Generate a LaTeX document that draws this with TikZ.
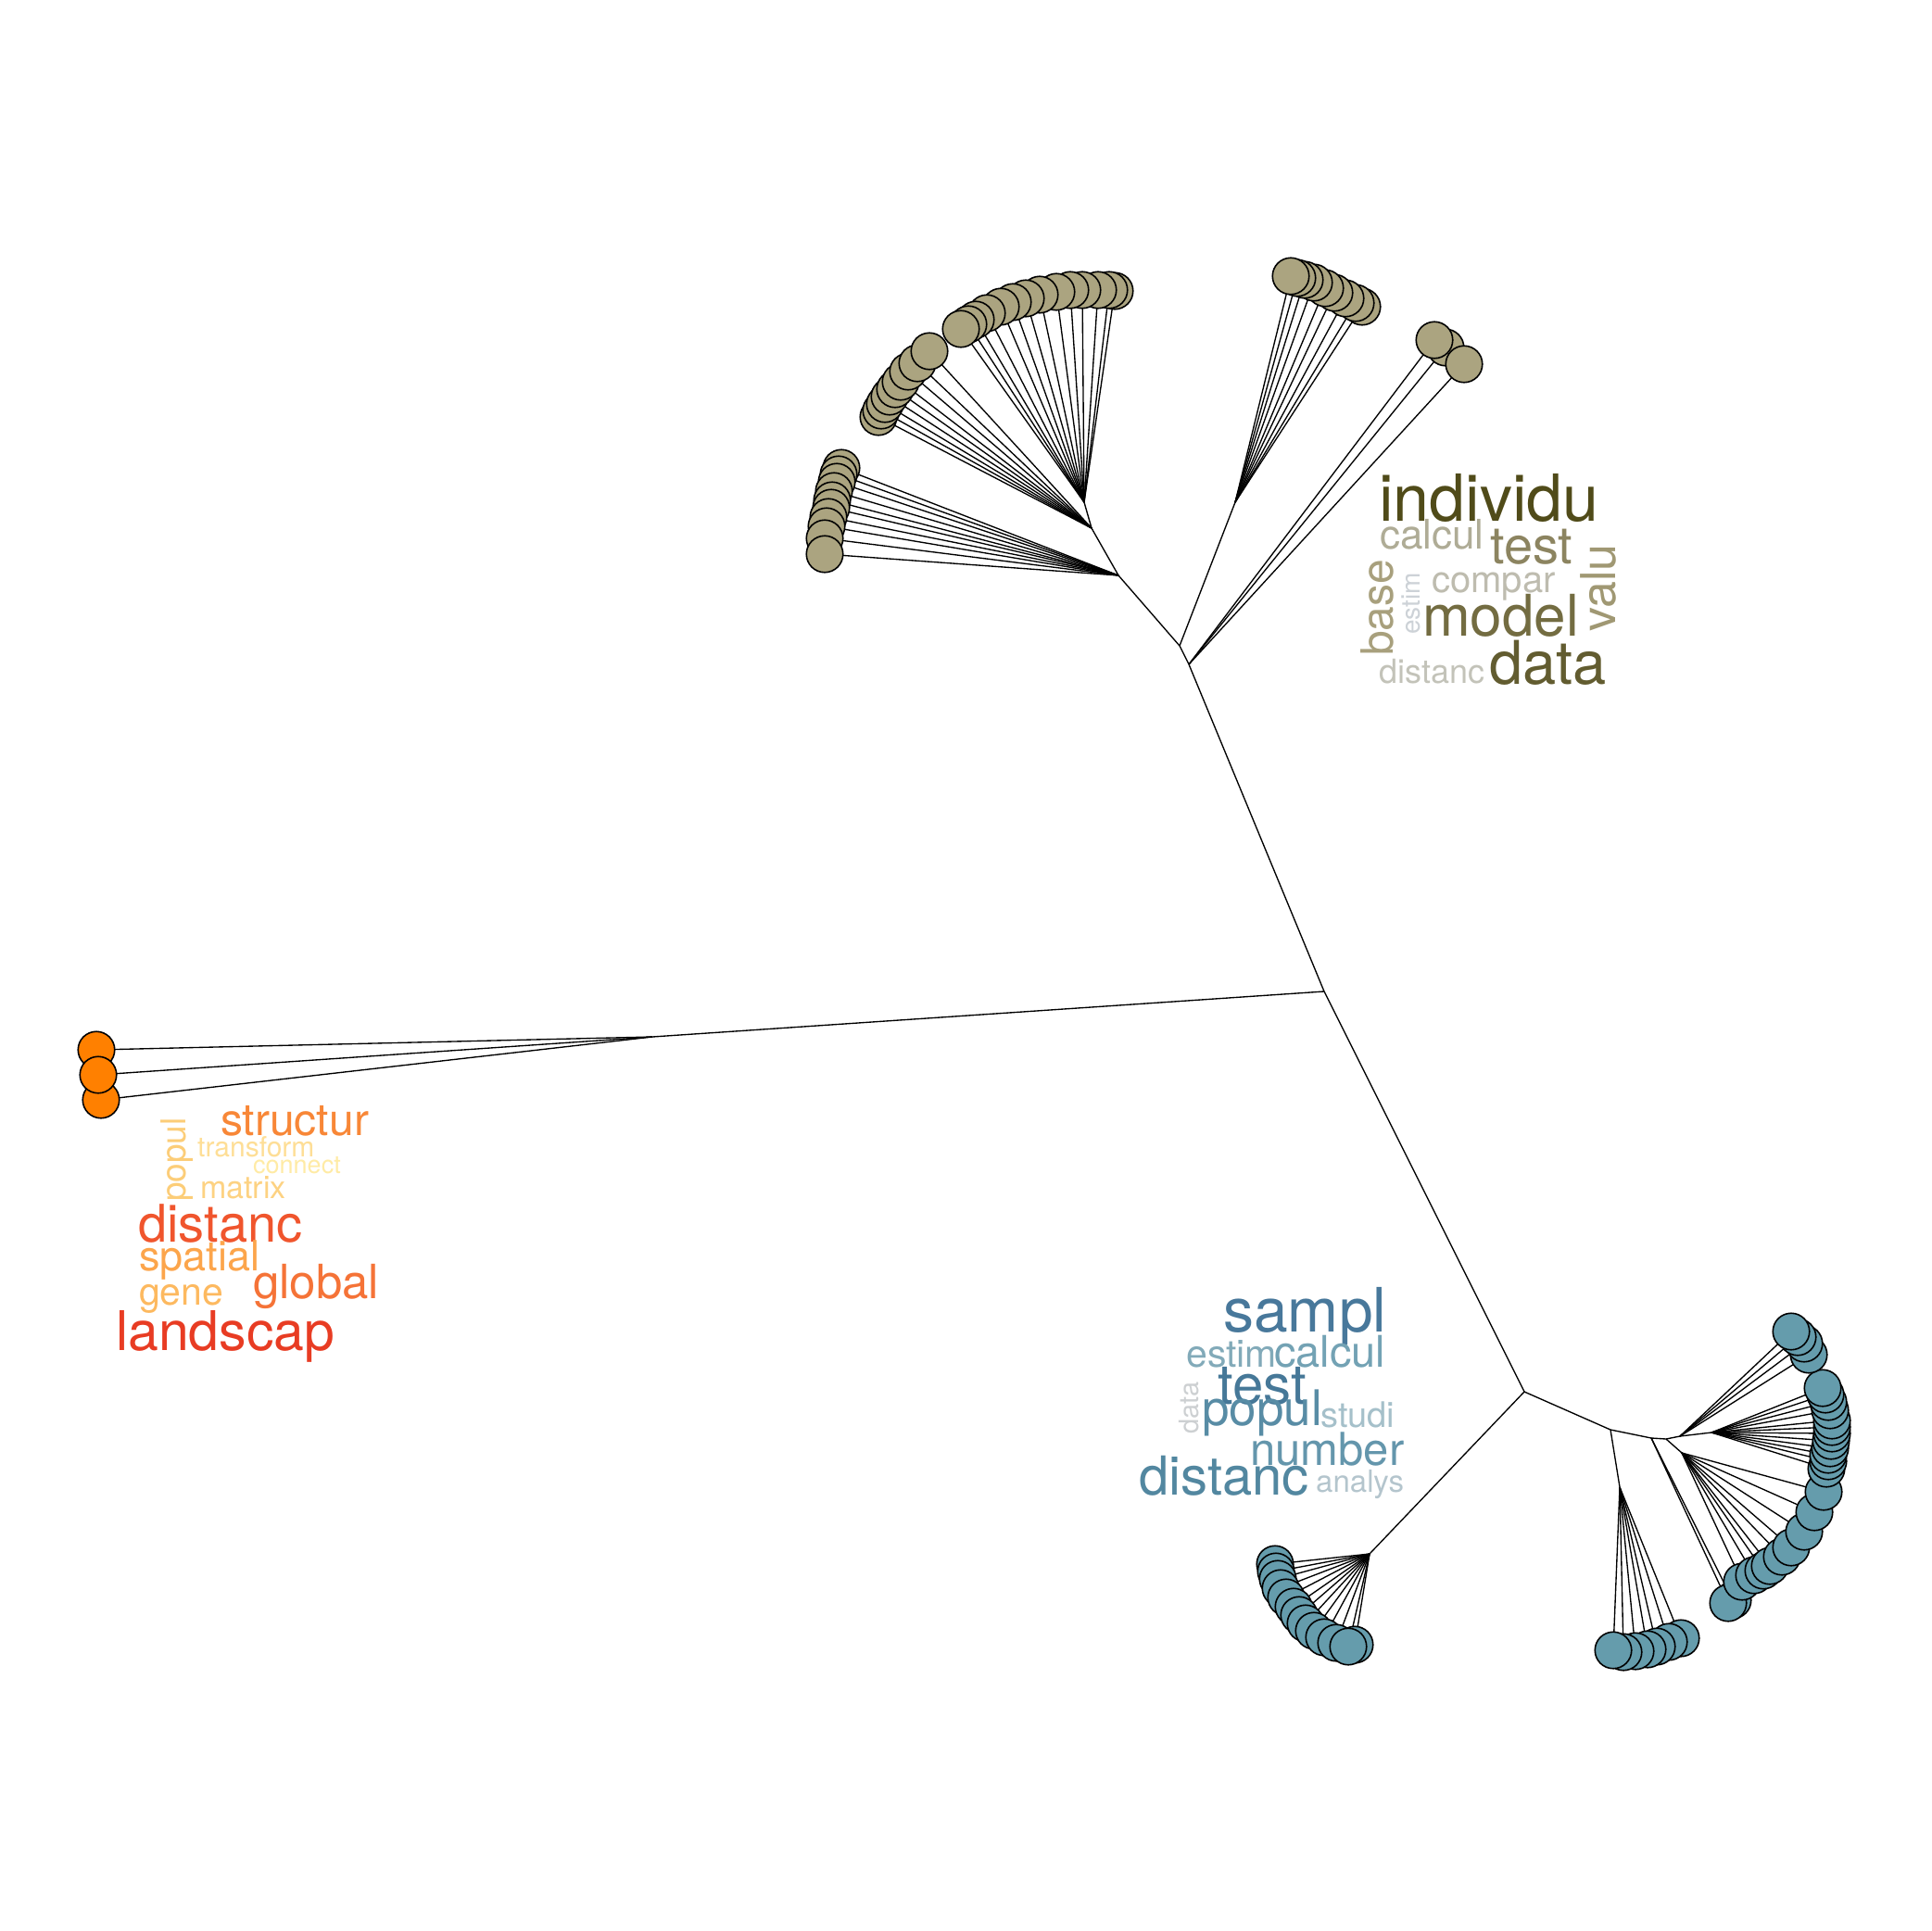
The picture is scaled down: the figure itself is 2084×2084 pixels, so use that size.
\documentclass[tikz,border=0pt]{standalone}
\usepackage{fontspec}
\setmainfont{TeX Gyre Heros}
\pgfdeclarelayer{back}
\pgfdeclarelayer{bg}
\pgfsetlayers{back,bg,main}
\definecolor{tanc}{RGB}{171,164,128}
\definecolor{bluec}{RGB}{101,156,172}
\definecolor{orc}{RGB}{255,128,0}
\newcommand{\fs}[1]{\fontsize{#1}{#1}\selectfont}
\begin{document}
\begin{tikzpicture}[x=1pt,y=-1pt,
  leaf/.style={circle,draw=black,line width=1.6pt,minimum size=39.5pt,inner sep=0pt},
  edge/.style={line width=1.35pt,black},
  word/.style={inner sep=0pt,anchor=base west}]
\begin{pgfonlayer}{back}
\fill[white] (0,0) rectangle (2084,2084);
\end{pgfonlayer}
\useasboundingbox (0,0) rectangle (2084,2084);

% internal nodes
\coordinate (R) at (1429,1070);
\coordinate (L) at (704,1119);
\coordinate (J5) at (1283,717);
\coordinate (J4) at (1273,697);
\coordinate (J3) at (1207,621);
\coordinate (J2) at (1178,570);
\coordinate (J1) at (1170,542);
\coordinate (N) at (1333,542);
\coordinate (K) at (1645,1502);
\coordinate (B) at (1478,1677);
\coordinate (K2) at (1738,1543);
\coordinate (K2b) at (1748,1605);
\coordinate (K3) at (1782,1552);
\coordinate (K4) at (1798,1553);
\coordinate (L1) at (1815,1568);
\coordinate (K5) at (1813,1550);
\coordinate (K6) at (1847,1546);

% leaves
\foreach \n/\x/\y in {u14/1203/314,u13/1197/313,u12/1185/313,u11/1168/313,u10/1155/313,u9/1140/315,u8/1122/318,u7/1107/322,u6/1093/326,u5/1080/331,u4/1065/338,u3/1053/345,u2/1045/350,u1/1037/355,
  m1/948/450,m2/951/443,m3/955/436,m4/960/428,m5/966/420,m6/972/412,m7/980/401,m8/990/392,m9/1003/379,
  l1/908/505,l2/905/512,l3/903/520,l4/900/530,l5/898/540,l6/897/548,l7/894/558,l8/892/568,l9/890/581,l10/890/598,
  c9/1470/331,c8/1463/327,c7/1452/322,c6/1440/316,c5/1430/311,c4/1418/305,c3/1408/302,c2/1400/300,c1/1393/298,
  d2/1560/375,d1/1548/367,d3/1580/393}
  \node[leaf,fill=tanc] (\n) at (\x,\y) {};

\foreach \n/\x/\y in {o3/109/1187,o1/104/1133,o2/106/1160}
  \node[leaf,fill=orc] (\n) at (\x,\y) {};

\foreach \n/\x/\y in {b1/1376/1688,b2/1377/1696,b3/1379/1704,b4/1382/1714,b5/1388/1724,b6/1396/1734,b7/1402/1743,b8/1409/1752,b9/1418/1760,b10/1429/1767,b11/1442/1773,b13/1462/1775,b12/1455/1777,
  e7/1814/1768,e6/1801/1772,e5/1788/1777,e4/1778/1780,e3/1765/1782,e2/1752/1783,e1/1741/1781,
  f2/1870/1727,f1/1865/1730,
  g1/1880/1707,g2/1893/1700,g3/1903/1695,g4/1910/1690,g5/1923/1680,g6/1933/1670,g7/1947/1653,g8/1958/1632,g9/1968/1610,
  h12/1971/1585,h11/1973/1577,h10/1973/1570,h9/1975/1563,h8/1976/1555,h7/1977/1547,h6/1977/1540,h5/1977/1533,h4/1975/1522,h3/1973/1513,h2/1970/1505,h1/1967/1498,
  k4/1952/1462,k3/1947/1450,k2/1940/1443,k1/1933/1437}
  \node[leaf,fill=bluec] (\n) at (\x,\y) {};

\begin{pgfonlayer}{bg}
\draw[edge] (L) -- (R) -- (J5) -- (J4) -- (J3) -- (J2) -- (J1);
\draw[edge] (J4) -- (N);
\draw[edge] (R) -- (K) -- (B);
\draw[edge] (K) -- (K2) -- (K3) -- (K4) -- (K5) -- (K6);
\draw[edge] (K2) -- (K2b);
\draw[edge] (K4) -- (L1);
\foreach \n in {u1,u2,u3,u4,u5,u6,u7,u8,u9,u10,u11,u12,u13,u14} \draw[edge] (J1) -- (\n.center);
\foreach \n in {m1,m2,m3,m4,m5,m6,m7,m8,m9} \draw[edge] (J2) -- (\n.center);
\foreach \n in {l1,l2,l3,l4,l5,l6,l7,l8,l9,l10} \draw[edge] (J3) -- (\n.center);
\foreach \n in {c1,c2,c3,c4,c5,c6,c7,c8,c9} \draw[edge] (N) -- (\n.center);
\foreach \n in {d1,d2,d3} \draw[edge] (J5) -- (\n.center);
\foreach \n in {o1,o2,o3} \draw[edge] (L) -- (\n.center);
\foreach \n in {b1,b2,b3,b4,b5,b6,b7,b8,b9,b10,b11,b12,b13} \draw[edge] (B) -- (\n.center);
\foreach \n in {e1,e2,e3,e4,e5,e6,e7} \draw[edge] (K2b) -- (\n.center);
\foreach \n in {f1,f2} \draw[edge] (K3) -- (\n.center);
\foreach \n in {g1,g2,g3,g4,g5,g6,g7,g8,g9} \draw[edge] (L1) -- (\n.center);
\foreach \n in {h1,h2,h3,h4,h5,h6,h7,h8,h9,h10,h11,h12} \draw[edge] (K6) -- (\n.center);
\foreach \n in {k1,k2,k3,k4} \draw[edge] (K5) -- (\n.center);
\end{pgfonlayer}

% tan word cloud
\node[word,font=\fs{70},text={rgb,255:red,80;green,75;blue,25}] (tw1) at (1488,562) {individu};
\node[word,font=\fs{44},text={rgb,255:red,175;green,172;blue,150}] (tw2) at (1489,592) {calcul};
\node[word,font=\fs{56},text={rgb,255:red,140;green,132;blue,96}] (tw3) at (1608,608) {test};
\node[word,font=\fs{52},rotate=90,text={rgb,255:red,160;green,152;blue,115}] (tw4) at (1743,682) {valu};
\node[word,font=\fs{48},rotate=90,text={rgb,255:red,168;green,160;blue,125}] (tw5) at (1503,708) {base};
\node[word,font=\fs{28},rotate=90,text={rgb,255:red,205;green,210;blue,215}] (tw6) at (1532,685) {estim};
\node[word,font=\fs{40},text={rgb,255:red,190;green,188;blue,175}] (tw7) at (1545,639) {compar};
\node[word,font=\fs{62},text={rgb,255:red,115;green,108;blue,65}] (tw8) at (1535,686) {model};
\node[word,font=\fs{36},text={rgb,255:red,195;green,195;blue,185}] (tw9) at (1488,737) {distanc};
\node[word,font=\fs{65},text={rgb,255:red,98;green,92;blue,48}] (tw10) at (1607,738) {data};

% orange word cloud
\node[word,font=\fs{48},text={rgb,255:red,248;green,135;blue,55}] (ow1) at (238,1225) {structur};
\node[word,font=\fs{37},rotate=90,text={rgb,255:red,252;green,205;blue,120}] (ow2) at (200,1297) {popul};
\node[word,font=\fs{30},text={rgb,255:red,254;green,222;blue,150}] (ow3) at (213,1248) {transform};
\node[word,font=\fs{27},text={rgb,255:red,255;green,235;blue,165}] (ow4) at (273,1266) {connect};
\node[word,font=\fs{34},text={rgb,255:red,253;green,210;blue,130}] (ow5) at (216,1293) {matrix};
\node[word,font=\fs{56},text={rgb,255:red,240;green,85;blue,45}] (ow6) at (149,1340) {distanc};
\node[word,font=\fs{45},text={rgb,255:red,252;green,165;blue,75}] (ow7) at (150,1371) {spatial};
\node[word,font=\fs{51},text={rgb,255:red,245;green,115;blue,55}] (ow8) at (273,1401) {global};
\node[word,font=\fs{41},text={rgb,255:red,253;green,185;blue,95}] (ow9) at (150,1408) {gene};
\node[word,font=\fs{59},text={rgb,255:red,232;green,60;blue,35}] (ow10) at (125,1457) {landscap};

% blue word cloud
\node[word,font=\fs{66},text={rgb,255:red,72;green,120;blue,155}] (bw1) at (1320,1437) {sampl};
\node[word,font=\fs{41},text={rgb,255:red,130;green,170;blue,185}] (bw2) at (1280,1475) {estim};
\node[word,font=\fs{47},text={rgb,255:red,115;green,162;blue,180}] (bw3) at (1375,1475) {calcul};
\node[word,font=\fs{60},text={rgb,255:red,70;green,120;blue,152}] (bw4) at (1314,1515) {test};
\node[word,font=\fs{29},rotate=90,text={rgb,255:red,205;green,208;blue,210}] (bw5) at (1293,1548) {data};
\node[word,font=\fs{53},text={rgb,255:red,88;green,140;blue,165}] (bw6) at (1297,1538) {popul};
\node[word,font=\fs{38},text={rgb,255:red,165;green,192;blue,202}] (bw7) at (1425,1540) {studi};
\node[word,font=\fs{49},text={rgb,255:red,100;green,150;blue,172}] (bw8) at (1349,1581) {number};
\node[word,font=\fs{58},text={rgb,255:red,82;green,135;blue,160}] (bw9) at (1229,1613) {distanc};
\node[word,font=\fs{33},text={rgb,255:red,180;green,197;blue,205}] (bw10) at (1420,1610) {analys};
\end{tikzpicture}
\end{document}
